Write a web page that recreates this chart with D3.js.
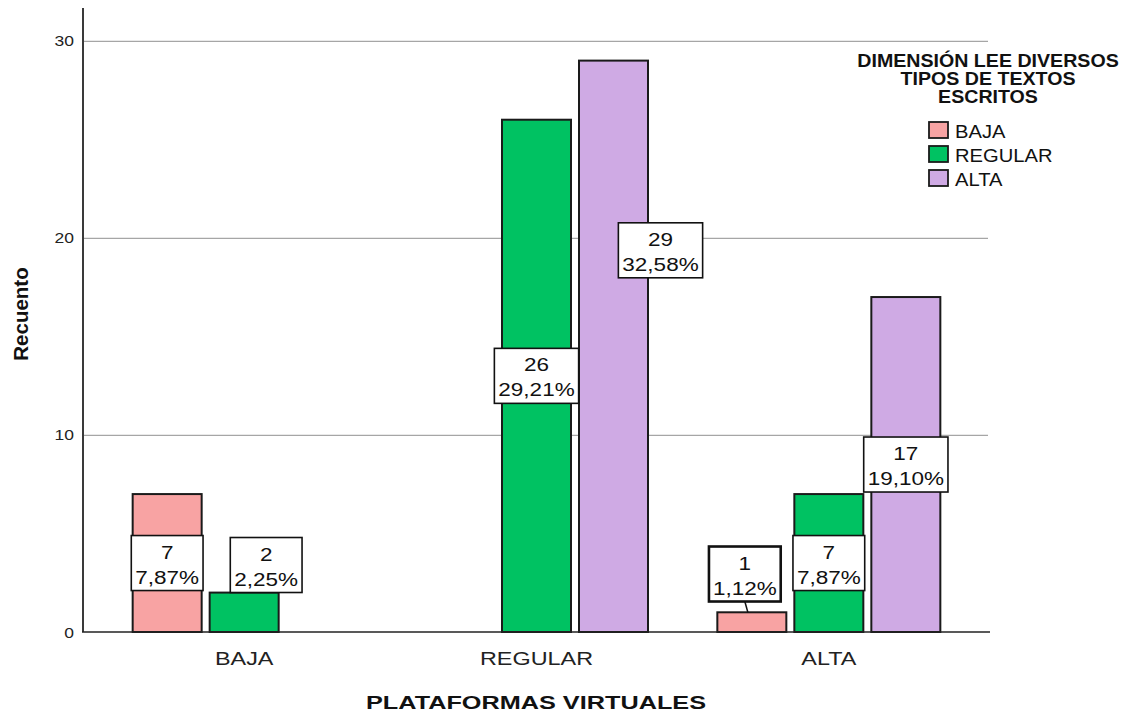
<!DOCTYPE html>
<html>
<head>
<meta charset="utf-8">
<script src="https://cdn.jsdelivr.net/npm/d3@7"></script>
<style>
  html, body { margin: 0; padding: 0; background: #ffffff; }
  svg { display: block; font-family: "Liberation Sans", Arial, sans-serif; }
</style>
</head>
<body>
<svg id="chart" width="1129" height="713"></svg>
<script>
// ---- data ----
const categories = ["BAJA", "REGULAR", "ALTA"];           // PLATAFORMAS VIRTUALES
const seriesNames = ["BAJA", "REGULAR", "ALTA"];          // DIMENSIÓN LEE DIVERSOS TIPOS DE TEXTOS ESCRITOS
const valuesBaja = [7, 0, 1];
const valuesRegular = [2, 26, 7];
const valuesAlta = [0, 29, 17];
const seriesColors = ["#f8a3a3", "#00c262", "#cfaae4"];
const yTicks = [0, 10, 20, 30];
const legendTitle = ["DIMENSIÓN LEE DIVERSOS", "TIPOS DE TEXTOS", "ESCRITOS"];
const xTitle = "PLATAFORMAS VIRTUALES";
const yTitle = "Recuento";

const seriesValues = [valuesBaja, valuesRegular, valuesAlta];
const total = d3.sum(seriesValues.flat());
const pctFmt = v => d3.format(".2f")(v / total * 100).replace(".", ",") + "%";

const svg = d3.select("#chart");
const SX = 1.25; // horizontal text stretch of the original

const x0 = d3.scaleBand().domain(categories).range([98, 975]);
const x1 = d3.scaleBand().domain(seriesNames).range([0, 223]).paddingInner(8 / 77);
const y = d3.scaleLinear().domain([0, 31.67]).range([632, 8]);
const barX = (ci, si) => x0(categories[ci]) + x0.bandwidth() / 2 - 111.5 + x1(seriesNames[si]);

// gridlines
const grid = svg.append("g").attr("transform", "translate(83,0)")
  .call(d3.axisLeft(y).tickValues(yTicks.filter(t => t > 0)).tickSize(-905).tickFormat(""));
grid.select(".domain").remove();
grid.selectAll("line").attr("stroke", "#a6a6a6").attr("stroke-width", 1.2);

// tick labels
const tl = svg.append("g").attr("transform", "translate(83,0)")
  .call(d3.axisLeft(y).tickValues(yTicks).tickSize(0).tickPadding(0));
tl.select(".domain").remove();
tl.selectAll("text")
  .attr("x", 0).attr("dy", null)
  .attr("transform", "translate(-9,5) scale(" + SX + ",1)")
  .attr("font-size", 14).attr("fill", "#222").attr("font-family", "Liberation Sans, Arial, sans-serif");

// bars
const barData = [];
categories.forEach((c, ci) => seriesNames.forEach((s, si) => {
  barData.push({ ci, si, v: seriesValues[si][ci] });
}));

svg.append("g").selectAll("rect").data(barData.filter(d => d.v > 0)).join("rect")
  .attr("x", d => barX(d.ci, d.si))
  .attr("y", d => y(d.v))
  .attr("width", x1.bandwidth())
  .attr("height", d => y(0) - y(d.v))
  .attr("fill", d => seriesColors[d.si])
  .attr("stroke", "#1a1a1a").attr("stroke-width", 2);

// axes lines
svg.append("line").attr("x1", 83).attr("x2", 83).attr("y1", 8).attr("y2", y(0))
  .attr("stroke", "#3a3a3a").attr("stroke-width", 2);
svg.append("line").attr("x1", 82).attr("x2", 990).attr("y1", y(0)).attr("y2", y(0))
  .attr("stroke", "#222").attr("stroke-width", 1.5);

// category labels
const xa = svg.append("g").attr("transform", "translate(0," + y(0) + ")")
  .call(d3.axisBottom(x0).tickSize(0).tickPadding(0));
xa.select(".domain").remove();
xa.selectAll("text")
  .attr("y", 0).attr("dy", null)
  .attr("transform", "translate(0,33) scale(1.3,1)")
  .attr("font-size", 18).attr("fill", "#222").attr("font-family", "Liberation Sans, Arial, sans-serif");

// value labels (layout nudges avoid overlaps as in the original)
const nudge = { "0-1": [22, 0], "1-2": [47, -96], "2-0": [-7, 9] };
const labG = svg.append("g");
barData.filter(d => d.v > 0).forEach(d => {
  const bx = barX(d.ci, d.si) + x1.bandwidth() / 2;
  const n = nudge[d.ci + "-" + d.si] || [0, 0];
  const cx = bx + n[0];
  const cy = (d.v / 2 < 3.4 ? y(3.4) : y(d.v / 2)) + n[1];
  const g = labG.append("g");
  const lines = [String(d.v), pctFmt(d.v)];
  const texts = lines.map((t, i) => g.append("text")
    .attr("text-anchor", "middle")
    .attr("transform", "translate(" + cx + "," + (cy - 4.5 + i * 25) + ") scale(" + SX + ",1)")
    .attr("font-size", 18).attr("fill", "#111").text(t));
  const w = d3.max(texts, t => t.node().getBBox().width) * SX + 8;
  const sel = d.ci === 2 && d.si === 0;
  g.insert("rect", "text")
    .attr("x", cx - w / 2).attr("y", cy - 27.5).attr("width", w).attr("height", 55)
    .attr("fill", "#fff").attr("stroke", "#111").attr("stroke-width", sel ? 2.6 : 1.6);
  if (n[1] > 0) {
    g.append("line").attr("x1", cx).attr("y1", cy + 27.5)
      .attr("x2", cx + 3).attr("y2", y(d.v))
      .attr("stroke", "#111").attr("stroke-width", 1.5);
  }
});

// axis titles
svg.append("text")
  .attr("text-anchor", "middle")
  .attr("transform", "translate(28,314) rotate(-90)")
  .attr("font-size", 20.5).attr("font-weight", "bold").attr("fill", "#111").text(yTitle);
svg.append("text")
  .attr("text-anchor", "middle")
  .attr("transform", "translate(536,709) scale(1.33,1)")
  .attr("font-size", 19).attr("font-weight", "bold").attr("fill", "#111").text(xTitle);

// legend
const lg = svg.append("g");
legendTitle.forEach((t, i) => lg.append("text")
  .attr("text-anchor", "middle")
  .attr("transform", "translate(988," + (67 + i * 18) + ") scale(1.09,1)")
  .attr("font-size", 18).attr("font-weight", "bold").attr("fill", "#111").text(t));
seriesNames.forEach((s, i) => {
  lg.append("rect").attr("x", 929).attr("y", 122 + i * 24).attr("width", 19).attr("height", 16)
    .attr("fill", seriesColors[i]).attr("stroke", "#1a1a1a").attr("stroke-width", 1.8);
  lg.append("text")
    .attr("transform", "translate(955," + (138 + i * 24) + ") scale(1.12,1)")
    .attr("font-size", 18).attr("fill", "#111").text(s);
});
</script>
</body>
</html>
